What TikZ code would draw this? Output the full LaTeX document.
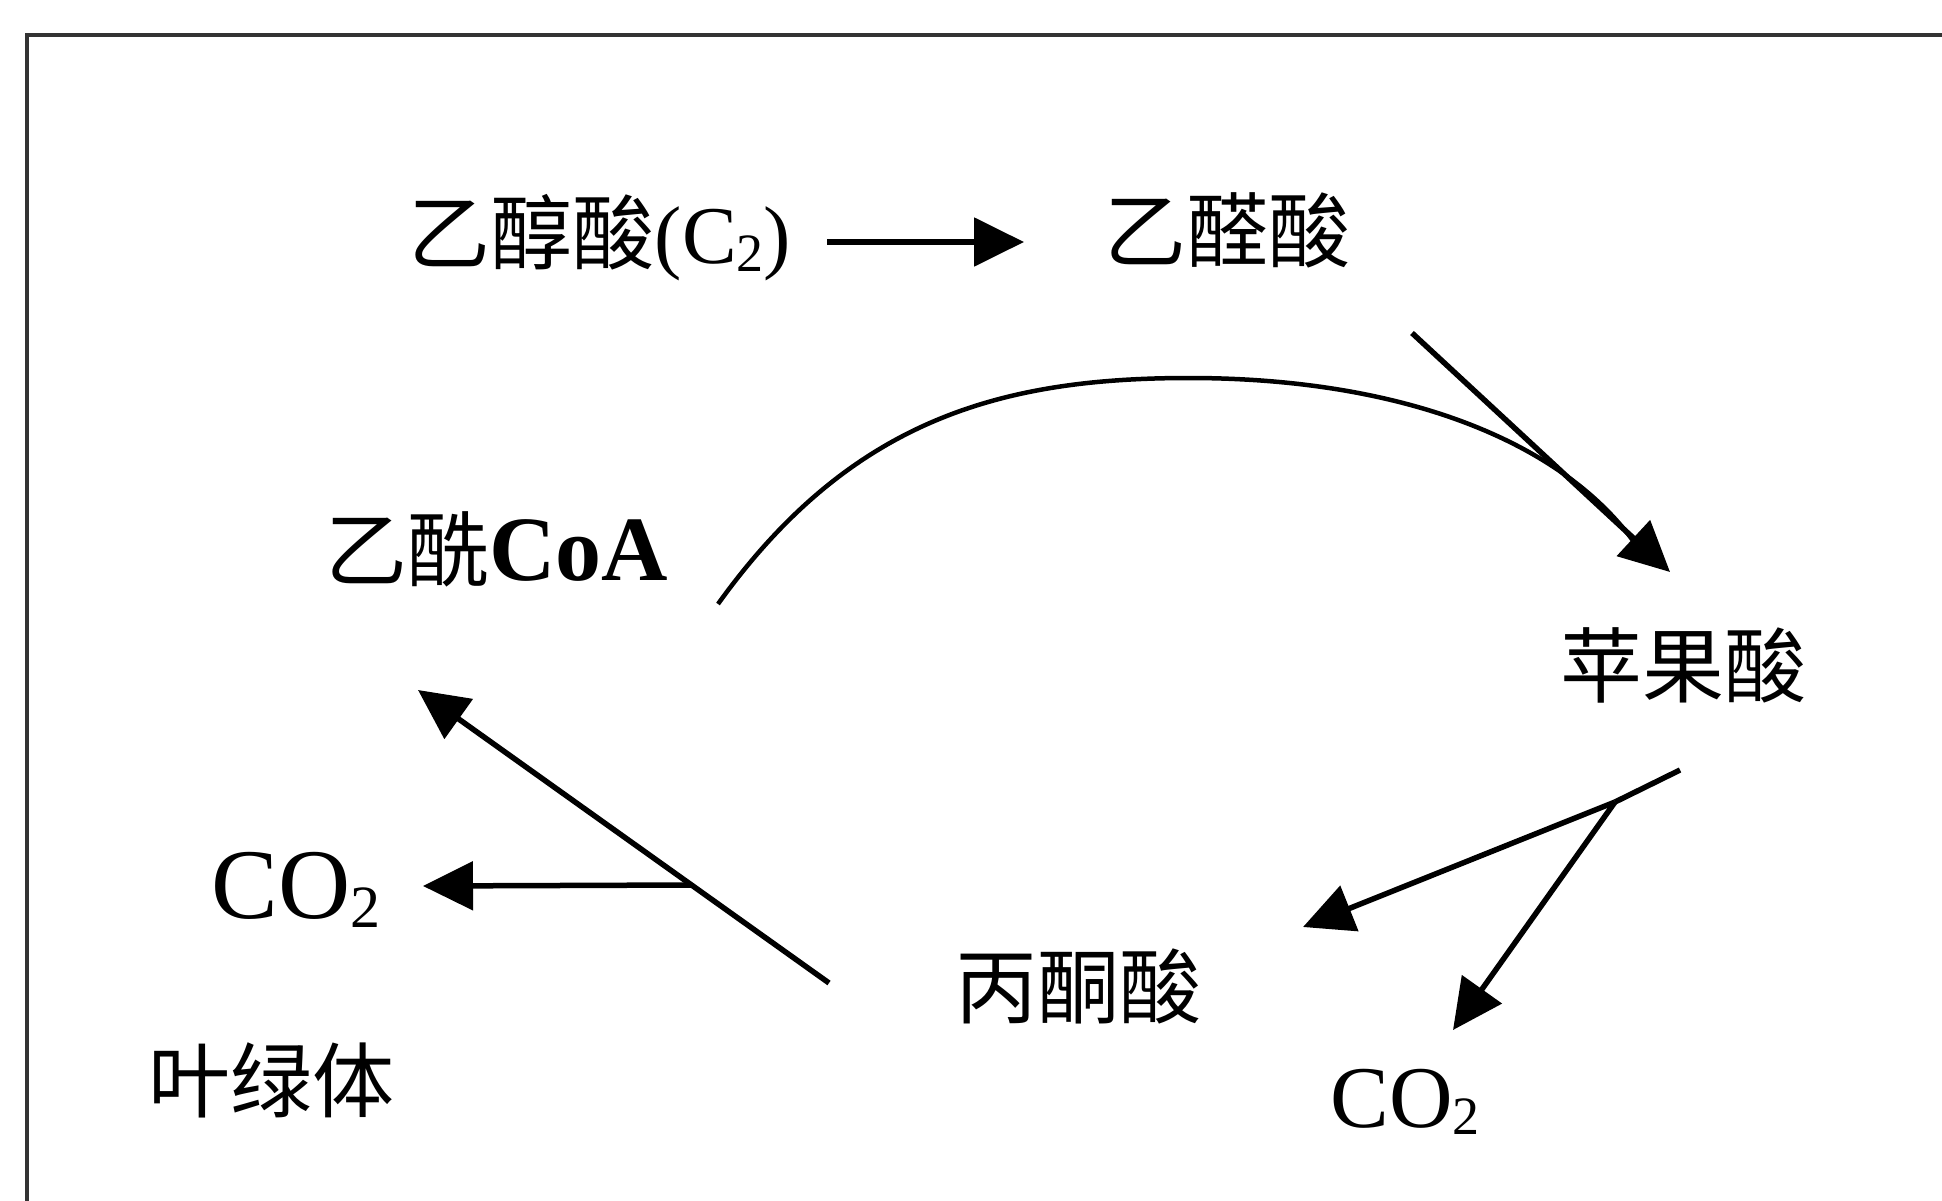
\documentclass[tikz,border=0pt]{standalone}
\usepackage{fontspec}
\setmainfont{Liberation Serif}
\newfontfamily\cjk{Noto Sans CJK SC}
\usetikzlibrary{arrows.meta}
\newcommand\subtwo[1]{{\fontsize{#1}{#1}\selectfont\raisebox{-0.14em}{2}}}
\begin{document}
\begin{tikzpicture}[x=1pt,y=-1pt,
  lbl/.style={inner sep=0pt, anchor=center, font=\cjk\fontsize{82}{90}\selectfont},
  co/.style={inner sep=0pt, anchor=center, font=\fontsize{100}{110}\selectfont},
  conn/.style={line width=5.5pt, draw=black, -{Triangle[length=50pt,width=48pt]}},
  plain/.style={line width=5.5pt, draw=black},
  frame/.style={line width=3.5pt, draw=black!80}]
\useasboundingbox (0,0) rectangle (1942,1201);
\draw[frame] (27,1210) -- (27,35) -- (1950,35);
% labels
\node[lbl] (glycolate) at (600,238) {乙醇酸{\rmfamily(C\subtwo{54})}};
\node[lbl] (glyoxylate) at (1227,230) {乙醛酸};
\node[lbl] (acetylcoa) at (497,549) {乙酰{\rmfamily\bfseries\fontsize{92}{100}\selectfont CoA}};
\node[lbl] (malate) at (1683,665) {苹果酸};
\node[co] (co2a) at (296,890) {CO\subtwo{60}};
\node[lbl] (pyruvate) at (1078,986) {丙酮酸};
\node[co, font=\fontsize{88}{96}\selectfont] (co2b) at (1405,1102) {CO\subtwo{54}};
\node[lbl] (chloro) at (271,1080) {叶绿体};
% connector end points
\coordinate (g1) at (827,242);
\coordinate (g2) at (1024,242);
\coordinate (x1) at (1412,333);
\coordinate (m0) at (1670,572);
\coordinate (c0) at (718,604);
\coordinate (ctop) at (1189,378);
\coordinate (cend) at (1634,542);
\coordinate (m1) at (1680,770);
\coordinate (j) at (1615,802);
\coordinate (p0) at (1303,927);
\coordinate (b0) at (1453,1030);
\coordinate (p1) at (829,983);
\coordinate (h) at (691,885);
\coordinate (a0) at (423,886);
\coordinate (a1) at (418,690);
% connectors
\draw[conn] (g1) -- (g2);
\draw[conn] (x1) -- (m0);
\draw[plain, line width=4.5pt] (c0) .. controls (850,420) and (1000,378) .. (ctop)
   .. controls (1400,378) and (1560,440) .. (cend);
\draw[plain] (m1) -- (j);
\draw[conn] (j) -- (p0);
\draw[conn] (j) -- (b0);
\draw[conn] (p1) -- (a1);
\draw[conn] (h) -- (a0);
\end{tikzpicture}
\end{document}
